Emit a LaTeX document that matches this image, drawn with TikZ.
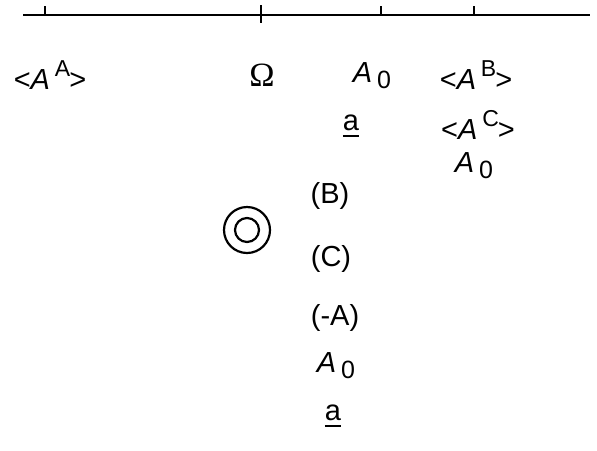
\documentclass[tikz,border=0pt]{standalone}
\usepackage{fontspec}
\setmainfont{Liberation Sans}
\newfontfamily\greekfont{Liberation Serif}
\usepackage{tikz}

\newcommand{\Azero}{\textit{A}\,\raisebox{-0.2em}{\fontsize{12.5}{14}\selectfont 0}}
\newcommand{\Aup}[1]{\textless\textit{A}\,\raisebox{0.42em}{\fontsize{11.5}{13}\selectfont #1}\kern-0.5pt\textgreater}
\newcommand{\ua}{\setbox0\hbox{a}\rlap{\rule[-3.2pt]{\wd0}{0.9pt}}a}

\begin{document}
\begin{tikzpicture}[x=0.5pt, y=-0.5pt, every node/.style={font=\fontsize{14.5}{16}\selectfont, inner sep=0pt}]
	\useasboundingbox (0,0) rectangle (597,450);
	\draw[line width=1.1pt] (23,15) -- (590,15);
	\foreach \tx in {45,381,474}
		\draw[line width=0.7pt] (\tx,6) -- (\tx,15);
	\draw[line width=0.8pt] (261,5) -- (261,23);
	\node (aa) at (50,75) {\Aup{A}};
	\node (omega) at (262,75) {\greekfont\fontsize{17}{19}\selectfont Ω};
	\node (azero1) at (372,76) {\Azero};
	\node (ab) at (476,75) {\Aup{B}};
	\node (ul1) at (351,126) {\ua};
	\node (ac) at (478,125) {\Aup{C}};
	\node (azero2) at (474,166) {\Azero};
	\node (b) at (330,196) {(B)};
	\node (c) at (331,259) {(C)};
	\node (minusa) at (335,318) {(-A)};
	\node (azero3) at (336,366) {\Azero};
	\node (ul2) at (333,416) {\ua};
	\draw[line width=1.1pt] (247,230) circle (23) circle (12);
\end{tikzpicture}
\end{document}
